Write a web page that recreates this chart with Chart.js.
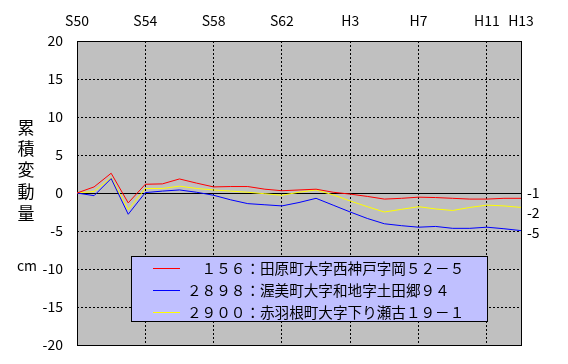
<!DOCTYPE html>
<html>
<head>
<meta charset="utf-8">
<script src="https://cdn.jsdelivr.net/npm/chart.js@4/dist/chart.umd.min.js"></script>
<style>
html,body{margin:0;padding:0;background:#fff;}
canvas{display:block;}
</style>
</head>
<body>
<canvas id="c" width="568" height="364"></canvas>
<script>
// ---- data ----
const years = [1975,1976,1977,1978,1979,1980,1981,1982,1983,1984,1985,1986,1987,1988,1989,1990,1991,1992,1993,1994,1995,1996,1997,1998,1999,2000,2001];
const red156 = [0,0.8,2.6,-1.3,1.15,1.2,1.85,1.3,0.8,0.85,0.85,0.5,0.3,0.4,0.5,0.1,-0.15,-0.45,-0.8,-0.7,-0.55,-0.6,-0.7,-0.8,-0.8,-0.7,-0.7];
const blue2898 = [0,-0.35,1.9,-2.8,0.05,0.25,0.4,0.1,-0.3,-0.9,-1.4,-1.55,-1.7,-1.25,-0.7,-1.6,-2.5,-3.35,-4.05,-4.3,-4.5,-4.4,-4.65,-4.65,-4.5,-4.7,-4.95];
const yellow2900 = [0,0.2,2.0,-2.2,0.6,0.6,0.9,0.6,0.4,0.25,0.1,-0.1,-0.3,0.1,0.4,-0.25,-1.05,-1.8,-2.5,-2.15,-1.8,-2.1,-2.3,-1.9,-1.6,-1.7,-1.9];
const seriesLabels = ['　１５６：田原町大字西神戸字岡５２－５','２８９８：渥美町大字和地字土田郷９４','２９００：赤羽根町大字下り瀬古１９－１'];
const tickYears = [1975,1979,1983,1987,1991,1995,1999,2001];
const tickLabels = ['S50','S54','S58','S62','H3','H7','H11','H13'];
const yTitleChars = ['累','積','変','動','量'];
const yUnit = 'cm';
const endLabels = ['-1','-2','-5'];
const endLabelValues = [0,-2.6,-5.2];

const FONT = "'Noto Sans CJK JP', sans-serif";
Chart.defaults.font.family = FONT;
Chart.defaults.color = '#000';

const toPts = arr => arr.map((v,i)=>({x:years[i], y:v}));

const decor = {
  id:'decor',
  beforeDraw(chart){
    const {ctx, chartArea:a} = chart;
    ctx.save();
    ctx.fillStyle = '#C0C0C0';
    ctx.fillRect(a.left, a.top, a.right-a.left, a.bottom-a.top);
    ctx.restore();
  },
  beforeDatasetsDraw(chart){
    const {ctx, chartArea:a, scales} = chart;
    ctx.save();
    ctx.strokeStyle = '#000';
    ctx.lineWidth = 1;
    const y0 = Math.round(scales.y.getPixelForValue(0)) + 0.5;
    ctx.beginPath(); ctx.moveTo(a.left, y0); ctx.lineTo(a.right, y0); ctx.stroke();
    ctx.strokeRect(Math.round(a.left)+0.5, Math.round(a.top)+0.5, Math.round(a.right-a.left), Math.round(a.bottom-a.top));
    ctx.restore();
  },
  afterDraw(chart){
    const {ctx, scales} = chart;
    ctx.save();
    ctx.fillStyle = '#000';
    // y title
    ctx.font = '17px ' + FONT;
    ctx.textAlign = 'center';
    ctx.textBaseline = 'middle';
    const ys = [128,149,170,192,214];
    yTitleChars.forEach((ch,i)=>ctx.fillText(ch, 26, ys[i]));
    ctx.font = '14px ' + FONT;
    ctx.fillText(yUnit, 27, 266);
    // end labels
    ctx.textAlign = 'left';
    endLabels.forEach((t,i)=>ctx.fillText(t, 527, scales.y.getPixelForValue(endLabelValues[i])));
    // legend
    const bx=131, by=256, bw=356, bh=65;
    ctx.fillStyle = '#C0C0FF';
    ctx.fillRect(bx,by,bw,bh);
    ctx.strokeStyle='#000'; ctx.lineWidth=1;
    ctx.strokeRect(bx+0.5,by+0.5,bw,bh);
    ctx.font = '14.6px ' + FONT;
    ctx.textBaseline='middle';
    chart.data.datasets.forEach((ds,i)=>{
      const y = Math.round(267.5 + i*22.3)+0.5;
      ctx.strokeStyle = ds.borderColor;
      ctx.beginPath(); ctx.moveTo(153,y); ctx.lineTo(180,y); ctx.stroke();
      ctx.fillStyle='#000';
      ctx.fillText(ds.label, 187, y);
    });
    ctx.restore();
  }
};

new Chart(document.getElementById('c'), {
  type:'line',
  data:{
    datasets:[
      {label:seriesLabels[0], data:toPts(red156), borderColor:'#FF0000', borderWidth:1, pointRadius:0, tension:0},
      {label:seriesLabels[1], data:toPts(blue2898), borderColor:'#0000FF', borderWidth:1, pointRadius:0, tension:0},
      {label:seriesLabels[2], data:toPts(yellow2900), borderColor:'#FFFF00', borderWidth:1, pointRadius:0, tension:0}
    ]
  },
  options:{
    responsive:false,
    animation:false,
    layout:{padding:{left:0, right:47, top:0, bottom:19}},
    plugins:{legend:{display:false}, tooltip:{enabled:false}},
    scales:{
      x:{
        type:'linear', position:'top', min:1975, max:2001,
        afterBuildTicks: s => { s.ticks = tickYears.map(v=>({value:v})); },
        afterFit: s => { s.height = 41; s.paddingLeft = 0; s.paddingRight = 0; },
        ticks:{autoSkip:false, maxRotation:0, padding:12, font:{size:14}, color:'#000',
          callback:(v)=>{ const i = tickYears.indexOf(v); return i>=0 ? tickLabels[i] : ''; }},
        grid:{color:'#000', lineWidth:1, drawTicks:false},
        border:{display:false, dash:[2,2]}
      },
      y:{
        min:-20, max:20,
        afterFit: s => { s.width = 77; s.paddingTop = 0; s.paddingBottom = 0; },
        ticks:{stepSize:5, padding:14, font:{size:14}, color:'#000'},
        grid:{color:'#000', lineWidth:1, drawTicks:false},
        border:{display:false, dash:[2,2]}
      }
    }
  },
  plugins:[decor]
});
</script>
</body>
</html>
